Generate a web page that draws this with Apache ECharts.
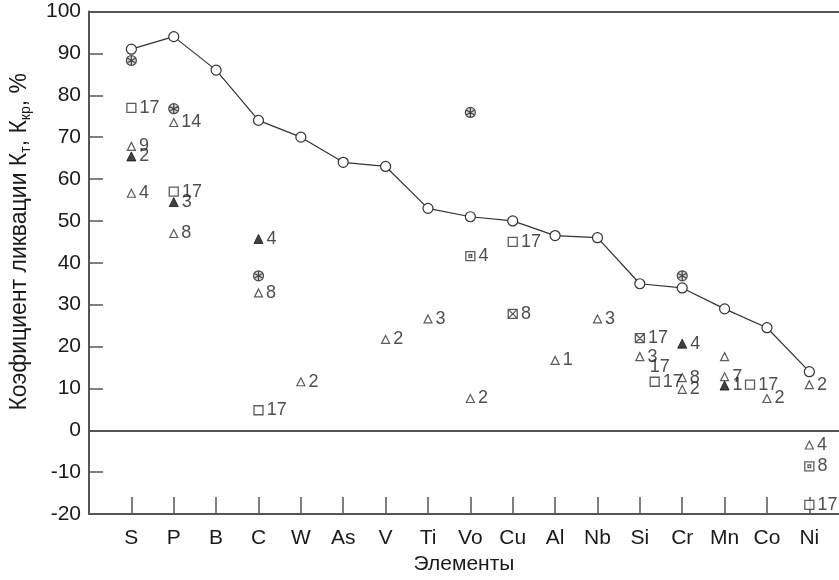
<!DOCTYPE html>
<html>
<head>
<meta charset="utf-8">
<script src="https://cdn.jsdelivr.net/npm/echarts@6/dist/echarts.min.js"></script>
<style>
html,body{margin:0;padding:0;background:#fff;}
#chart{width:839px;height:580px;}
</style>
</head>
<body>
<div id="chart"></div>
<script>
// ---- data ----
const elements = ['S','P','B','C','W','As','V','Ti','Vo','Cu','Al','Nb','Si','Cr','Mn','Co','Ni'];
const lineValues = [91, 94, 86, 74, 70, 64, 63, 53, 51, 50, 46.5, 46, 35, 34, 29, 24.5, 14];
const yTicks = [-20, -10, 0, 10, 20, 30, 40, 50, 60, 70, 80, 90, 100];

// [element position, value, label]
const openTriangles = [
  [0, 67.8, '9'], [0, 56.6, '4'],
  [1, 73.5, '14'], [1, 47, '8'],
  [3, 32.8, '8'],
  [4, 11.6, '2'],
  [6, 21.7, '2'],
  [7, 26.6, '3'],
  [8, 7.6, '2'],
  [10, 16.7, '1'],
  [11, 26.6, '3'],
  [12, 17.6, '3'],
  [13, 12.6, '8'], [13, 9.8, '2'],
  [14, 17.6, ''], [14, 12.8, '7'],
  [15, 7.6, '2'],
  [16, 10.9, '2'], [16, -3.5, '4']
];
const filledTriangles = [
  [0, 65.4, '2'],
  [1, 54.5, '3'],
  [3, 45.7, '4'],
  [13, 20.7, '4'],
  [14, 10.7, '1']
];
const openSquares = [
  [0, 77, '17'],
  [1, 57, '17'],
  [3, 4.8, '17'],
  [9, 45, '17'],
  [12.35, 11.6, '17'],
  [14.6, 10.9, '17'],
  [16, -17.8, '17']
];
const crossedSquares = [
  [9, 27.8, '8'],
  [12, 22, '17']
];
const dotSquares = [
  [8, 41.6, '4'],
  [16, -8.6, '8']
];
const starCircles = [
  [0, 88.3], [1, 76.8], [3, 36.9], [8, 75.9], [13, 36.9]
];
const looseLabels = [
  [12.15, 15.2, '17']
];

// ---- chart ----
const FONT = '"Liberation Sans", Arial, sans-serif';
const DARK = '#333';
const AX = '#555';
const catIdx = elements.map((_, i) => i);

function labelCfg(size) {
  return {
    show: true, position: 'right', distance: 3,
    formatter: p => p.data[2] || '',
    fontSize: size || 18, color: '#222', fontFamily: FONT
  };
}
function scatter(data, symbol, size, itemStyle, z) {
  return {
    type: 'scatter', data: data, symbol: symbol, symbolSize: size,
    itemStyle: itemStyle, label: labelCfg(), z: z || 3, silent: true
  };
}

const chart = echarts.init(document.getElementById('chart'), null, {renderer: 'canvas'});
chart.setOption({
  animation: false,
  backgroundColor: '#fff',
  textStyle: {fontFamily: FONT},
  grid: {left: 89, right: 0, top: 11.5, bottom: 64, containLabel: false},
  xAxis: [{
    type: 'value', min: -1, max: 16.7, position: 'bottom',
    axisLine: {show: true, onZero: false, lineStyle: {color: AX, width: 2}},
    axisTick: {show: true, inside: true, length: 17, customValues: catIdx, lineStyle: {color: AX, width: 1.5}},
    axisLabel: {show: true, customValues: catIdx, formatter: v => elements[Math.round(v)] || '',
      fontSize: 21, color: '#1a1a1a', margin: 14, fontFamily: FONT},
    splitLine: {show: false},
    name: 'Элементы', nameLocation: 'middle', nameGap: 38,
    nameTextStyle: {fontSize: 21, color: '#1a1a1a', fontFamily: FONT}
  }, {
    type: 'value', min: -1, max: 16.7, position: 'top',
    axisLine: {show: true, onZero: false, lineStyle: {color: AX, width: 2}},
    axisTick: {show: false}, axisLabel: {show: false}, splitLine: {show: false}
  }],
  yAxis: {
    type: 'value', min: yTicks[0], max: yTicks[yTicks.length - 1], interval: 10,
    axisLine: {show: true, onZero: false, lineStyle: {color: AX, width: 2}},
    axisTick: {show: true, inside: true, length: 14, lineStyle: {color: AX, width: 1.5}},
    axisLabel: {fontSize: 21, color: '#1a1a1a', margin: 8, fontFamily: FONT},
    splitLine: {show: false},
    name: '{n|Коэфициент ликвации К}{s|т}{n|, К}{s|кр}{n|, %}',
    nameLocation: 'middle', nameGap: 56,
    nameTextStyle: {
      padding: [0, 0, 0, 42],
      rich: {
        n: {fontSize: 23, color: '#1a1a1a', fontFamily: FONT, lineHeight: 27},
        s: {fontSize: 14, color: '#1a1a1a', fontFamily: FONT, verticalAlign: 'bottom', lineHeight: 18, padding: [9, 0, 0, 0]}
      }
    }
  },
  series: [
    {
      type: 'line', data: lineValues.map((v, i) => [i, v]),
      symbol: 'circle', symbolSize: 10, showSymbol: true,
      itemStyle: {color: '#fff', borderColor: DARK, borderWidth: 1.2},
      lineStyle: {color: DARK, width: 1.2}, z: 4, silent: true,
      markLine: {
        silent: true, symbol: ['none', 'none'], label: {show: false},
        lineStyle: {color: AX, width: 2, type: 'solid'},
        data: [{yAxis: 0}]
      }
    },
    scatter(openTriangles, 'triangle', 8, {color: '#fff', borderColor: DARK, borderWidth: 1.2}),
    scatter(filledTriangles, 'triangle', 9, {color: '#111', borderColor: '#111', borderWidth: 1}),
    scatter(openSquares, 'rect', 9, {color: '#fff', borderColor: DARK, borderWidth: 1.3}),
    scatter(crossedSquares, 'path://M0,0H10V10H0Z M0,0L10,10 M10,0L0,10', 9, {color: '#fff', borderColor: DARK, borderWidth: 1.3}),
    scatter(dotSquares, 'path://M0,0H10V10H0Z M3.5,3.5H6.5V6.5H3.5Z', 9, {color: '#fff', borderColor: DARK, borderWidth: 1.3}),
    scatter(starCircles, 'path://M0,5A5,5 0 1 1 10,5A5,5 0 1 1 0,5Z M5,0V10 M0.7,2.5L9.3,7.5 M0.7,7.5L9.3,2.5', 10, {color: '#ccc', borderColor: '#222', borderWidth: 1.2}),
    scatter(looseLabels, 'rect', 1, {color: 'rgba(0,0,0,0)', borderWidth: 0})
  ]
});
</script>
</body>
</html>
